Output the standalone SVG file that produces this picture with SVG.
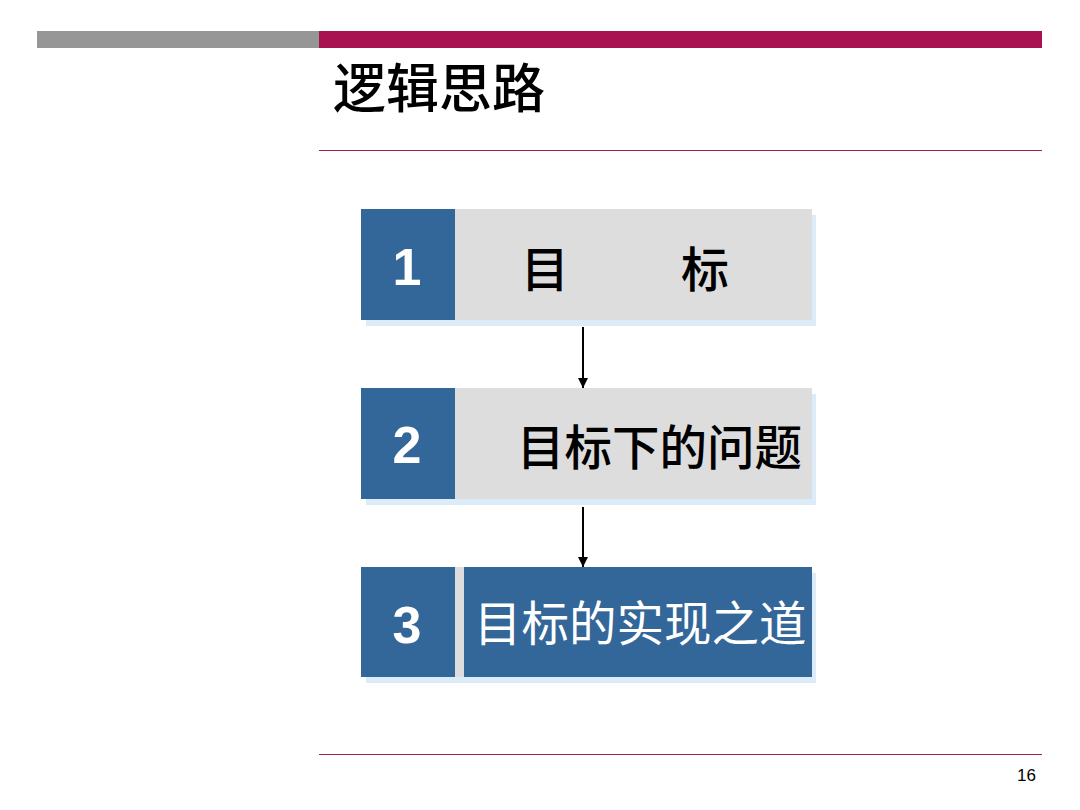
<svg xmlns="http://www.w3.org/2000/svg" width="1080" height="810" viewBox="0 0 1080 810">
<style>
.cjk{font-family:"Noto Sans CJK SC","Noto Sans",sans-serif;}
.num{font-family:"Liberation Sans",Arial,sans-serif;font-weight:bold;fill:#fff;font-size:52px;text-anchor:middle;}
.shadow{fill:#dcebf8;}
.blue{fill:#336699;}
.gray{fill:#dddddd;}
.conn{stroke:#000;stroke-width:2;fill:none;}
</style>
<defs>
<marker id="ah" viewBox="0 0 10 10" refX="10" refY="5" markerWidth="5" markerHeight="5" orient="auto" markerUnits="strokeWidth">
<path d="M0,0 L10,5 L0,10 Z" fill="#000"/>
</marker>
</defs>
<rect width="1080" height="810" fill="#fff"/>
<g id="header">
<rect x="37" y="31" width="282" height="17" fill="#969696"/>
<rect x="319" y="31" width="723" height="17" fill="#a81250"/>
<text x="333" y="108" class="cjk" font-size="53" font-weight="500" fill="#000">逻辑思路</text>
<line x1="319" y1="150.5" x2="1042" y2="150.5" stroke="#a0204f" stroke-width="1"/>
</g>
<g id="node1">
<rect class="shadow" x="366" y="215" width="450" height="111"/>
<rect class="gray" x="455" y="209" width="357" height="111"/>
<rect class="blue" x="361" y="209" width="94" height="111"/>
<text class="num" x="407" y="285">1</text>
<text class="cjk" x="545" y="287" font-size="48" font-weight="500" text-anchor="middle" fill="#000">目</text>
<text class="cjk" x="705" y="287" font-size="48" font-weight="500" text-anchor="middle" fill="#000">标</text>
</g>
<g id="node2">
<rect class="shadow" x="366" y="394" width="450" height="111"/>
<rect class="gray" x="455" y="388" width="357" height="111"/>
<rect class="blue" x="361" y="388" width="94" height="111"/>
<text class="num" x="407" y="463">2</text>
<text class="cjk" x="517" y="465" font-size="47.5" font-weight="500" fill="#000">目标下的问题</text>
</g>
<g id="node3">
<rect class="shadow" x="366" y="573" width="450" height="110"/>
<rect class="gray" x="455" y="567" width="9" height="110"/>
<rect class="blue" x="361" y="567" width="94" height="110"/>
<rect class="blue" x="464" y="567" width="348" height="110"/>
<text class="num" x="407" y="643">3</text>
<text class="cjk" x="474" y="641" font-size="47.5" fill="#fff">目标的实现之道</text>
</g>
<g id="connectors">
<line class="conn" x1="583" y1="327" x2="583" y2="388" marker-end="url(#ah)"/>
<line class="conn" x1="583" y1="507" x2="583" y2="567" marker-end="url(#ah)"/>
</g>
<g id="footer">
<line x1="319" y1="754.5" x2="1042" y2="754.5" stroke="#a0204f" stroke-width="1"/>
<text x="1036" y="781" font-family="Liberation Sans, Arial, sans-serif" font-size="17" text-anchor="end" fill="#000">16</text>
</g>
</svg>
